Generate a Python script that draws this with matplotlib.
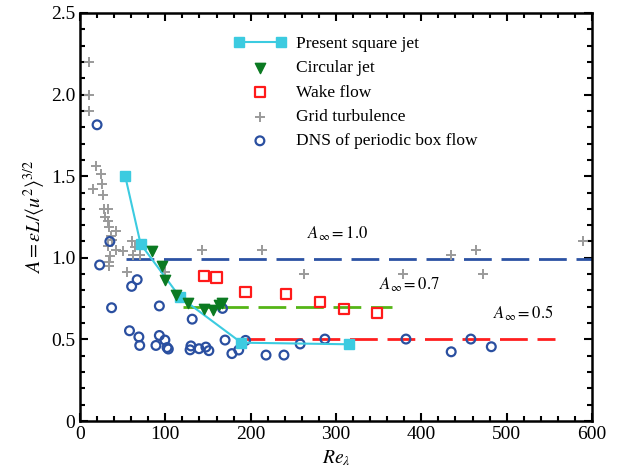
import matplotlib
matplotlib.use("Agg")
import matplotlib.pyplot as plt
from matplotlib.ticker import MultipleLocator, FixedLocator, FixedFormatter

plt.rcParams["font.family"] = ["Liberation Serif", "DejaVu Serif"]
plt.rcParams["mathtext.fontset"] = "stix"

# Present square jet
square_re = [53, 71, 117, 189, 315]
square_a = [1.50, 1.085, 0.76, 0.48, 0.47]

# Circular jet
circ_re = [84, 96, 100, 112, 126, 145, 156, 163, 166]
circ_a = [1.04, 0.95, 0.865, 0.77, 0.72, 0.685, 0.68, 0.71, 0.72]

# Wake flow
wake_re = [145, 160, 194, 241, 281, 309, 348]
wake_a = [0.89, 0.88, 0.79, 0.78, 0.73, 0.685, 0.66]

# Grid turbulence
grid_re = [10, 10, 11, 19, 25, 15, 26, 27.5, 28, 33, 29, 33, 34, 42, 36, 37,
           60.5, 33, 42, 50, 64.5, 35, 34, 34, 54.5, 62.5, 70.5, 100, 143,
           213, 262, 378, 435, 464, 472, 590]
grid_a = [2.20, 2.00, 1.90, 1.56, 1.515, 1.42, 1.45, 1.385, 1.30, 1.30, 1.25,
          1.225, 1.19, 1.165, 1.135, 1.11, 1.105, 1.07, 1.05, 1.04, 1.065,
          1.01, 0.975, 0.95, 0.915, 1.02, 1.02, 0.91, 1.045, 1.05, 0.90, 0.90,
          1.02, 1.05, 0.90, 1.10]

# DNS of periodic box flow
dns_re = [20, 23, 35, 37, 60.5, 67, 93, 58, 69, 70, 89, 93, 99.5, 102, 103.5,
          131.5, 130, 129, 139.5, 147.5, 151, 167, 170, 178, 186, 194, 218,
          239, 258, 287, 382, 435, 458, 482]
dns_a = [1.815, 0.956, 1.10, 0.694, 0.825, 0.866, 0.705, 0.553, 0.515, 0.463,
         0.463, 0.524, 0.496, 0.45, 0.441, 0.624, 0.46, 0.436, 0.443, 0.453,
         0.431, 0.69, 0.496, 0.413, 0.435, 0.494, 0.404, 0.404, 0.472, 0.502,
         0.502, 0.424, 0.502, 0.455]

# asymptotic levels
asym_vals = [0.99, 0.70, 0.505]
asym_start = [54, 121, 184]
asym_end = [600, 366, 557]
asym_labels = [r"$A_\infty = 1.0$", r"$A_\infty = 0.7$", r"$A_\infty = 0.5$"]
asym_label_x = [266, 350, 484]
asym_label_y = [1.09, 0.78, 0.60]
asym_colors = ["#2b52a3", "#55b516", "#ff1f1f"]

fig = plt.figure(figsize=(6.21, 4.75), dpi=100)
ax = fig.add_axes([80 / 621, 1 - 421 / 475, 512 / 621, 408 / 475])

for val, x0, x1, col in zip(asym_vals, asym_start, asym_end, asym_colors):
    ax.plot([x0, x1], [val, val], color=col, lw=2.0, dashes=(10, 3.5), zorder=2)
for lab, lx, ly in zip(asym_labels, asym_label_x, asym_label_y):
    ax.text(lx, ly, lab, fontsize=12, ha="left", va="bottom")

ax.scatter(grid_re, grid_a, marker="+", s=45, color="#9a9a9a", linewidths=1.4,
           label="Grid turbulence", zorder=3)
ax.scatter(dns_re, dns_a, marker="o", s=40, facecolors="none",
           edgecolors="#2a4fa0", linewidths=1.6,
           label="DNS of periodic box flow", zorder=3)
ax.plot(square_re, square_a, color="#3ccbe0", lw=1.5, marker="s", ms=7,
        mfc="#3ccbe0", mec="#3ccbe0", label="Present square jet", zorder=4)
ax.scatter(circ_re, circ_a, marker="v", s=55, color="#0b7a22",
           label="Circular jet", zorder=5)
ax.scatter(wake_re, wake_a, marker="s", s=55, facecolors="none",
           edgecolors="#ff1a1a", linewidths=1.6, label="Wake flow", zorder=5)

ax.set_xlim(0, 600)
ax.set_ylim(0, 2.5)
ax.xaxis.set_major_locator(MultipleLocator(100))
ax.xaxis.set_minor_locator(MultipleLocator(20))
ax.yaxis.set_major_locator(FixedLocator([0, 0.5, 1.0, 1.5, 2.0, 2.5]))
ax.yaxis.set_major_formatter(FixedFormatter(["0", "0.5", "1.0", "1.5", "2.0", "2.5"]))
ax.yaxis.set_minor_locator(MultipleLocator(0.1))
ax.tick_params(which="both", direction="in", top=True, right=True,
               labelsize=14, width=1.5)
ax.tick_params(which="major", length=6)
ax.tick_params(which="minor", length=3.5)
for sp in ax.spines.values():
    sp.set_linewidth(1.8)

ax.set_xlabel(r"$Re_\lambda$", fontsize=14, labelpad=4)
ax.set_ylabel(r"$A = \varepsilon L / \langle u^2 \rangle^{3/2}$", fontsize=14.5,
              labelpad=2)

handles, labels = ax.get_legend_handles_labels()
order = ["Present square jet", "Circular jet", "Wake flow", "Grid turbulence",
         "DNS of periodic box flow"]
hmap = dict(zip(labels, handles))
ax.legend([hmap[k] for k in order], order, loc="upper left",
          bbox_to_anchor=(0.27, 0.982), frameon=False, fontsize=12.5,
          numpoints=2, scatterpoints=1, handlelength=3.0, labelspacing=0.47,
          handletextpad=0.6)

fig.savefig("out.png", dpi=100)
